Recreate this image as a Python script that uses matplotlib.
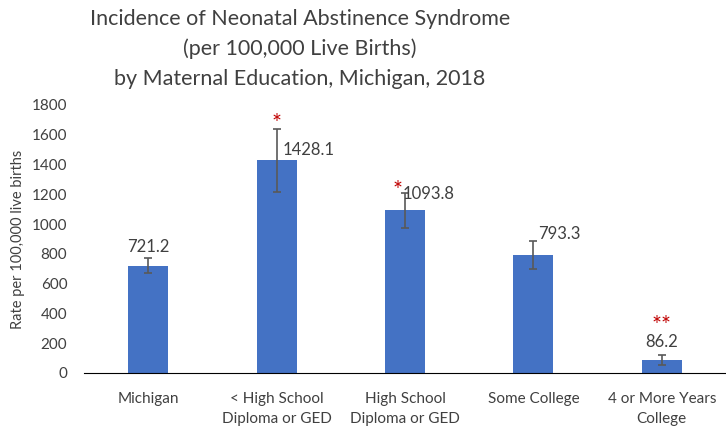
import numpy as np
import matplotlib
matplotlib.use("Agg")
import matplotlib.pyplot as plt

plt.rcParams['font.family'] = ['Lato', 'DejaVu Sans']

categories = ["Michigan", "< High School\nDiploma or GED", "High School\nDiploma or GED",
              "Some College", "4 or More Years\nCollege"]
rates = [721.2, 1428.1, 1093.8, 793.3, 86.2]
ci_low = [672, 1215, 975, 700, 55]
ci_high = [772, 1640, 1210, 885, 120]
stars = ["", "*", "*", "", "**"]

x = np.arange(len(categories))
err = [np.array(rates) - np.array(ci_low), np.array(ci_high) - np.array(rates)]

fig = plt.figure(figsize=(7.26, 4.29), dpi=100)
ax = fig.add_axes([84/726, 1 - 373/429, 642/726, 268/429])

ax.bar(x, rates, width=0.31, color="#4472C4", zorder=2)
ax.errorbar(x, rates, yerr=err, fmt="none", ecolor="#595959", elinewidth=1.2,
            capsize=3, capthick=1.2, zorder=3)

txt = "#404040"
# etiquetas de valor
ax.text(0, 790, f"{rates[0]:.1f}", ha="center", va="bottom", fontsize=12, color=txt)
ax.text(1.05, 1498, f"{rates[1]:.1f}", ha="left", va="center", fontsize=12, color=txt)
ax.text(1.985, 1200, f"{rates[2]:.1f}", ha="left", va="center", fontsize=12, color=txt)
ax.text(3.04, 933, f"{rates[3]:.1f}", ha="left", va="center", fontsize=12, color=txt)
ax.text(4, 208, f"{rates[4]:.1f}", ha="center", va="center", fontsize=12, color=txt)

# asteriscos de significancia
star_pos = {1: (1.0, 1630), 2: (1.94, 1180), 4: (4.0, 275)}
for i, (sx, sy) in star_pos.items():
    ax.text(sx, sy, stars[i], ha="center", va="baseline", fontsize=17,
            color="#C00000")

ax.set_xlim(-0.5, 4.5)
ax.set_ylim(0, 1800)
ax.set_yticks(np.arange(0, 1801, 200))
ax.set_xticks(x)
ax.set_xticklabels(categories, fontsize=11, color=txt, linespacing=1.55)
ax.tick_params(axis="y", labelsize=11, labelcolor=txt, length=0, pad=12)
ax.tick_params(axis="x", length=0, pad=14)
for s in ["top", "right", "left"]:
    ax.spines[s].set_visible(False)
ax.spines["bottom"].set_color("#000000")
ax.set_ylabel("Rate per 100,000 live births", fontsize=10.5, color=txt, labelpad=5)

fig.text(300/726, 1 - 49/429,
         "Incidence of Neonatal Abstinence Syndrome\n(per 100,000 Live Births)\nby Maternal Education, Michigan, 2018",
         ha="center", va="center", fontsize=15.5, color="#404040", linespacing=1.6)

fig.savefig("out.png", dpi=100)
